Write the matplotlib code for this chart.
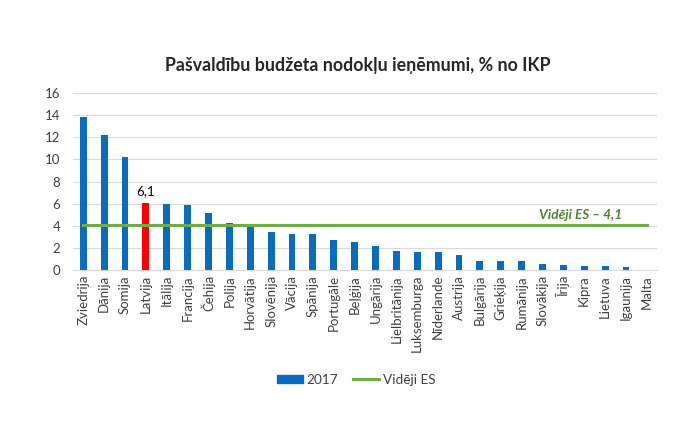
import matplotlib
matplotlib.use("Agg")
import matplotlib.pyplot as plt
from matplotlib.patches import Patch
from matplotlib.lines import Line2D
import numpy as np

countries = ["Zviedrija", "Dānija", "Somija", "Latvija", "Itālija", "Francija", "Čehija",
             "Polija", "Horvātija", "Slovēnija", "Vācija", "Spānija", "Portugāle", "Beļģija",
             "Ungārija", "Lielbritānija", "Luksemburga", "Nīderlande", "Austrija", "Bulgārija",
             "Grieķija", "Rumānija", "Slovākija", "Īrija", "Kipra", "Lietuva", "Igaunija", "Malta"]
values_2017 = [13.8, 12.2, 10.2, 6.1, 6.0, 5.9, 5.2, 4.3, 3.95, 3.45, 3.3, 3.3, 2.75, 2.55,
               2.15, 1.7, 1.6, 1.6, 1.35, 0.85, 0.85, 0.85, 0.55, 0.45, 0.38, 0.38, 0.28, 0.0]
eu_avg = 4.1
highlight = "Latvija"

plt.rcParams['font.family'] = ['Lato', 'DejaVu Sans']

fig = plt.figure(figsize=(7, 4.37), dpi=100)
ax = fig.add_axes([0.104, 0.382, 0.835, 0.405])

blue = "#0A6CBF"
red = "#FF0000"
green = "#70AD47"
x = np.arange(len(countries))
colors = [red if c == highlight else blue for c in countries]
ax.bar(x, values_2017, width=0.33, color=colors, zorder=3)
ax.plot(x, [eu_avg] * len(countries), color=green, lw=2.2, zorder=4)

ax.set_xlim(-0.5, len(countries) - 0.5)
ax.set_ylim(0, 16)
ax.set_yticks(range(0, 17, 2))
ax.grid(axis='y', color="#D9D9D9", lw=0.8, zorder=0)
for s in ["top", "right", "left"]:
    ax.spines[s].set_visible(False)
ax.spines["bottom"].set_color("#D9D9D9")
ax.tick_params(axis='both', length=0, colors="#404040", labelsize=9.5)
ax.tick_params(axis='y', pad=9)
ax.set_xticks(x)
ax.set_xticklabels(countries, rotation=90)

i = countries.index(highlight)
ax.text(i, values_2017[i] + 0.5, "6,1", ha='center', va='bottom', fontsize=9.5, color="#000000")
ax.text(len(countries) - 2.2, eu_avg + 0.3, "Vidēji ES – 4,1", ha='right', va='bottom',
        fontsize=9.8, color="#548235", fontweight='bold', fontstyle='italic')

fig.text(0.511, 0.851, "Pašvaldību budžeta nodokļu ieņēmumi, % no IKP", ha='center', va='center',
         fontsize=12.8, fontweight='bold', color="#262626")

handles = [Patch(color=blue, label="2017"), Line2D([0], [0], color=green, lw=2.2, label="Vidēji ES")]
fig.legend(handles=handles, loc='center', bbox_to_anchor=(0.509, 0.131), ncol=2, frameon=False,
           fontsize=9.8, handlelength=1.9, handleheight=0.55, columnspacing=1.1, handletextpad=0.3,
           labelcolor="#404040")

fig.savefig("out.png", dpi=100)
